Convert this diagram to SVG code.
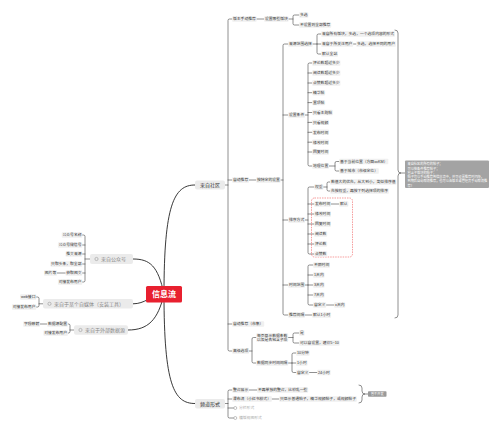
<svg xmlns="http://www.w3.org/2000/svg" width="500" height="433" viewBox="0 0 500 433">
<defs>
<style>
.bg{fill:#f0f0f0}
.t{font-family:"Liberation Sans","Noto Sans CJK SC",sans-serif;font-size:3.8px;fill:#333}
.tg{fill:#aaa}
.big{font-family:"Liberation Sans","Noto Sans CJK SC",sans-serif;font-size:5px;fill:#333}
.lb{font-family:"Liberation Sans","Noto Sans CJK SC",sans-serif;font-size:5px;fill:#8a8a8a}
.nb{fill:#ebebeb}
.ic{fill:none;stroke:#999;stroke-width:0.6}
.c{fill:none;stroke:#333;stroke-width:0.55;stroke-linecap:round}
.m{fill:none;stroke:#222;stroke-width:0.9}
.w{font-family:"Liberation Sans","Noto Sans CJK SC",sans-serif;font-size:3.2px;fill:#fff}
</style>
</defs>
<rect width="500" height="433" fill="#fff"/>

<g id="connectors">
<path class="m" d="M164,294 C164,205 174,185 195,185"/>
<path class="m" d="M164,294 C164,385 174,403.5 195,403.5"/>
<path class="m" d="M164,294 C158,266 150,259 133,259"/>
<path class="m" d="M164,294 C150,296 145,303.8 133,303.8"/>
<path class="m" d="M164,294 C158,320 148,330 128,330"/>
<!-- trunk A -->
<path class="c" d="M225,185 H228"/>
<path class="c" d="M232.2,19 H229.5 Q228,19 228,20.5 V349.5 Q228,351 229.5,351 H232.2 M228,180 H232.2 M228,324 H232.2"/>
<path class="c" d="M256.6,19 H264.2 M288.6,19 H293 M299.2,15 H294.5 Q293,15 293,16.5 V23.5 Q293,25 294.5,25 H299.2"/>
<path class="c" d="M249,180 H256.2 M280.6,180 H283"/>
<!-- trunk B -->
<path class="c" d="M288.2,44 H284.5 Q283,44 283,45.5 V313.5 Q283,315 284.5,315 H288.2 M283,115 H288.2 M283,220 H288.2 M283,285 H288.2"/>
<path class="c" d="M312.6,44 H317 M321.2,34 H318.5 Q317,34 317,35.5 V52.5 Q317,54 318.5,54 H321.2 M317,44 H321.2 M353.2,44 H356.2"/>
<path class="c" d="M305,115 H308 M312.2,63 H309.5 Q308,63 308,64.5 V164.5 Q308,166 309.5,166 H312.2 M308,73 H312.2 M308,83 H312.2 M308,92.7 H312.2 M308,102.6 H312.2 M308,112.5 H312.2 M308,122.4 H312.2 M308,132.3 H312.2 M308,142.2 H312.2 M308,152 H312.2"/>
<path class="c" d="M329,166 H335 M339.2,161.5 H336.5 Q335,161.5 335,163 V169.5 Q335,171 336.5,171 H339.2"/>
<path class="c" d="M305,220 H308 M314.2,187 H309.5 Q308,187 308,188.5 V252.5 Q308,254 309.5,254 H314.2 M308,204 H314.2 M308,214 H314.2 M308,224 H314.2 M308,234 H314.2 M308,244 H314.2"/>
<path class="c" d="M323.4,187 H327 M330.2,182 H328.5 Q327,182 327,183.5 V189.5 Q327,191 328.5,191 H330.2 M331,204 H339.2"/>
<path class="c" d="M305,285 H308 M313.2,265 H309.5 Q308,265 308,266.5 V303.5 Q308,305 309.5,305 H313.2 M308,275 H313.2 M308,285 H313.2 M308,295 H313.2 M326.2,305 H334.2"/>
<path class="c" d="M305,315 H312.2"/>
<path class="c" d="M249,351 H252 M256.2,337.5 H253.5 Q252,337.5 252,339 V361.5 Q252,363 253.5,363 H256.2"/>
<path class="c" d="M288.2,337.5 H293 M299.2,333 H294.5 Q293,333 293,334.5 V341.5 Q293,343 294.5,343 H299.2"/>
<path class="c" d="M288.2,363 H292 M296.2,353 H293.5 Q292,353 292,354.5 V371 Q292,372.5 293.5,372.5 H296.2 M292,363 H296.2 M309.2,372.5 H317.2"/>
<!-- big brace -->
<path class="c" d="M395,30 Q398,30 398,33 V170 Q398,173 401,173 Q398,173 398,176 V315 Q398,318 395,318 M401,173 H405"/>
<!-- 频道形式 -->
<path class="c" d="M225,403.5 H228 M232.2,390 H229.5 Q228,390 228,391.5 V416.5 Q228,418 229.5,418 H233.5 M228,399 H232.2 M228,408 H233.5"/>
<path class="c" d="M249,390 H257.2 M271.8,399 H279.2"/>
<path class="c" d="M359,385 Q362,385 362,388 V391 Q362,394 365,394 Q362,394 362,397 V400 Q362,403 359,403 M365,394 H368"/>
<!-- left -->
<path class="c" d="M90,259 H85 M82.3,235 H83.5 Q85,235 85,236.5 V280.5 Q85,282 83.5,282 H82.3 M85,245 H82.3 M85,254 H82.3 M85,264 H82.3 M85,273 H82.3 M65.5,273 H57"/>
<path class="c" d="M43,303.8 H39 M36.3,297 H37.5 Q39,297 39,298.5 V305.5 Q39,307 37.5,307 H36.3"/>
<path class="c" d="M74,330 H70 M67.8,324 H68.5 Q70,324 70,325.5 V331.5 Q70,333 68.5,333 H67.8 M47.2,324 H40"/>
</g>

<g id="center"><rect x="146" y="286" width="36" height="16.5" rx="1.5" fill="#e8202f"/><text x="164" y="297.2" text-anchor="middle" font-family="Liberation Sans,Noto Sans CJK SC,sans-serif" font-size="8" font-weight="bold" fill="#fff">信息流</text></g>

<g id="n-community"><rect class="nb" x="195" y="180.5" width="30" height="9" rx="2"/><text class="big" x="210" y="186.8" text-anchor="middle">来自社区</text></g>
<g id="n-channel"><rect class="nb" x="195" y="399" width="30" height="9.5" rx="2"/><text class="big" x="210" y="405.5" text-anchor="middle">频道形式</text></g>

<g id="n-gzh"><rect class="nb" x="90" y="254" width="43" height="10" rx="2"/><circle class="ic" cx="96.5" cy="259" r="1.6"/><text class="lb" x="101" y="260.8">来自公众号</text></g>
<g id="n-zmt"><rect class="nb" x="43" y="299" width="90" height="9.6" rx="2"/><circle class="ic" cx="49.5" cy="303.8" r="1.6"/><text class="lb" x="54" y="305.6">来自于某个自媒体（安装工具）</text></g>
<g id="n-ext"><rect class="nb" x="74" y="325.2" width="54" height="9.6" rx="2"/><circle class="ic" cx="80.5" cy="330" r="1.6"/><text class="lb" x="85" y="331.8">来自于外部数据源</text></g>

<!-- left children -->
<g id="l1"><rect class="bg" x="61.7" y="232.3" width="20.6" height="5.4" rx="0.8"/><text class="t" x="62.5" y="236.35">公众号名称</text></g>
<g id="l2"><rect class="bg" x="57.9" y="242.3" width="24.4" height="5.4" rx="0.8"/><text class="t" x="58.7" y="246.35">公众号微信号</text></g>
<g id="l3"><rect class="bg" x="65.5" y="251.3" width="16.8" height="5.4" rx="0.8"/><text class="t" x="66.3" y="255.35">推文来源</text></g>
<g id="l4"><rect class="bg" x="50.3" y="261.3" width="32" height="5.4" rx="0.8"/><text class="t" x="51.1" y="265.35">只取头条，取全部</text></g>
<g id="l5"><rect class="bg" x="65.5" y="270.3" width="16.8" height="5.4" rx="0.8"/><text class="t" x="66.3" y="274.35">获取图文</text></g>
<g id="l5a"><rect class="bg" x="44" y="270.3" width="13" height="5.4" rx="0.8"/><text class="t" x="44.8" y="274.35">图片等</text></g>
<g id="l6"><rect class="bg" x="57.9" y="279.3" width="24.4" height="5.4" rx="0.8"/><text class="t" x="58.7" y="283.35">对接发布用户</text></g>
<g id="l7"><rect class="bg" x="20.1" y="294.3" width="16.2" height="5.4" rx="0.8"/><text class="t" x="20.9" y="298.35">web接口</text></g>
<g id="l8"><rect class="bg" x="11.9" y="304.3" width="24.4" height="5.4" rx="0.8"/><text class="t" x="12.7" y="308.35">对接发布用户</text></g>
<g id="l9"><rect class="bg" x="47.2" y="321.3" width="20.6" height="5.4" rx="0.8"/><text class="t" x="48" y="325.35">数据源配置</text></g>
<g id="l9a"><rect class="bg" x="23.2" y="321.3" width="16.8" height="5.4" rx="0.8"/><text class="t" x="24" y="325.35">字段映射</text></g>
<g id="l10"><rect class="bg" x="43.4" y="330.3" width="24.4" height="5.4" rx="0.8"/><text class="t" x="44.2" y="334.35">对接发布用户</text></g>

<!-- community subtree -->
<g id="a1"><rect class="bg" x="232.2" y="16.3" width="24.4" height="5.4" rx="0.8"/><text class="t" x="233" y="20.35">版主手动推荐</text></g>
<g id="a1a"><rect class="bg" x="264.2" y="16.3" width="24.4" height="5.4" rx="0.8"/><text class="t" x="265" y="20.35">设置哪些版块</text></g>
<g id="a1a1"><rect class="bg" x="299.2" y="12.3" width="9.2" height="5.4" rx="0.8"/><text class="t" x="300" y="16.35">多选</text></g>
<g id="a1a2"><rect class="bg" x="299.2" y="22.3" width="32" height="5.4" rx="0.8"/><text class="t" x="300" y="26.35">不设置则全部推荐</text></g>
<g id="a2"><rect class="bg" x="232.2" y="177.3" width="16.8" height="5.4" rx="0.8"/><text class="t" x="233" y="181.35">自动推荐</text></g>
<g id="b"><rect class="bg" x="256.2" y="177.3" width="24.4" height="5.4" rx="0.8"/><text class="t" x="257" y="181.35">按特定的设置</text></g>

<g id="b1"><rect class="bg" x="288.2" y="41.3" width="24.4" height="5.4" rx="0.8"/><text class="t" x="289" y="45.35">来源范围选择</text></g>
<g id="b1a"><rect class="bg" x="321.2" y="31.3" width="73.8" height="5.4" rx="0.8"/><text class="t" x="322" y="35.35">来自所有版块，多选，一个选项内容的形式</text></g>
<g id="b1b"><rect class="bg" x="321.2" y="41.3" width="32" height="5.4" rx="0.8"/><text class="t" x="322" y="45.35">来自于所关注用户</text></g>
<g id="b1b1"><rect class="bg" x="356.2" y="41.3" width="39.6" height="5.4" rx="0.8"/><text class="t" x="357" y="45.35">多选，选择不同的用户</text></g>
<g id="b1c"><rect class="bg" x="321.2" y="51.3" width="16.8" height="5.4" rx="0.8"/><text class="t" x="322" y="55.35">默认全站</text></g>

<g id="b2"><rect class="bg" x="288.2" y="112.3" width="16.8" height="5.4" rx="0.8"/><text class="t" x="289" y="116.35">设置条件</text></g>
<g id="c1"><rect class="bg" x="312.2" y="60.3" width="28.2" height="5.4" rx="0.8"/><text class="t" x="313" y="64.35">评论数超过多少</text></g>
<g id="c2"><rect class="bg" x="312.2" y="70.3" width="28.2" height="5.4" rx="0.8"/><text class="t" x="313" y="74.35">阅读数超过多少</text></g>
<g id="c3"><rect class="bg" x="312.2" y="80.3" width="28.2" height="5.4" rx="0.8"/><text class="t" x="313" y="84.35">点赞数超过多少</text></g>
<g id="c4"><rect class="bg" x="312.2" y="90" width="13" height="5.4" rx="0.8"/><text class="t" x="313" y="94.05">精华帖</text></g>
<g id="c5"><rect class="bg" x="312.2" y="99.9" width="13" height="5.4" rx="0.8"/><text class="t" x="313" y="103.95">置顶帖</text></g>
<g id="c6"><rect class="bg" x="312.2" y="109.8" width="20.6" height="5.4" rx="0.8"/><text class="t" x="313" y="113.85">只看主题帖</text></g>
<g id="c7"><rect class="bg" x="312.2" y="119.7" width="16.8" height="5.4" rx="0.8"/><text class="t" x="313" y="123.75">只看视频</text></g>
<g id="c8"><rect class="bg" x="312.2" y="129.6" width="16.8" height="5.4" rx="0.8"/><text class="t" x="313" y="133.65">发布时间</text></g>
<g id="c9"><rect class="bg" x="312.2" y="139.5" width="16.8" height="5.4" rx="0.8"/><text class="t" x="313" y="143.55">修改时间</text></g>
<g id="c10"><rect class="bg" x="312.2" y="149.3" width="16.8" height="5.4" rx="0.8"/><text class="t" x="313" y="153.35">回复时间</text></g>
<g id="c11"><rect class="bg" x="312.2" y="163.3" width="16.8" height="5.4" rx="0.8"/><text class="t" x="313" y="167.35">地理位置</text></g>
<g id="c11a"><rect class="bg" x="339.2" y="158.8" width="49.1" height="5.4" rx="0.8"/><text class="t" x="340" y="162.85">基于当前位置（方圆xxKM）</text></g>
<g id="c11b"><rect class="bg" x="339.2" y="168.3" width="39.6" height="5.4" rx="0.8"/><text class="t" x="340" y="172.35">基于城市（市级定位）</text></g>

<g id="b3"><rect class="bg" x="288.2" y="217.3" width="16.8" height="5.4" rx="0.8"/><text class="t" x="289" y="221.35">排序方式</text></g>
<g id="s1"><rect class="bg" x="314.2" y="184.3" width="9.2" height="5.4" rx="0.8"/><text class="t" x="315" y="188.35">权重</text></g>
<g id="s1a"><rect class="bg" x="330.2" y="179.3" width="66.2" height="5.4" rx="0.8"/><text class="t" x="331" y="183.35">数值大的优先，从大到小，类似排序值</text></g>
<g id="s1b"><rect class="bg" x="330.2" y="188.3" width="58.6" height="5.4" rx="0.8"/><text class="t" x="331" y="192.35">先按权重，再按下列选择项的排序</text></g>
<rect x="311.5" y="198" width="41" height="59" rx="3" fill="none" stroke="#f05a5a" stroke-width="0.6" stroke-dasharray="1.5 1"/>
<g id="s2"><rect class="bg" x="314.2" y="201.3" width="16.8" height="5.4" rx="0.8"/><text class="t" x="315" y="205.35">发布时间</text></g>
<g id="s2a"><rect class="bg" x="339.2" y="201.3" width="9.2" height="5.4" rx="0.8"/><text class="t" x="340" y="205.35">默认</text></g>
<g id="s3"><rect class="bg" x="314.2" y="211.3" width="16.8" height="5.4" rx="0.8"/><text class="t" x="315" y="215.35">修改时间</text></g>
<g id="s4"><rect class="bg" x="314.2" y="221.3" width="16.8" height="5.4" rx="0.8"/><text class="t" x="315" y="225.35">回复时间</text></g>
<g id="s5"><rect class="bg" x="314.2" y="231.3" width="13" height="5.4" rx="0.8"/><text class="t" x="315" y="235.35">阅读数</text></g>
<g id="s6"><rect class="bg" x="314.2" y="241.3" width="13" height="5.4" rx="0.8"/><text class="t" x="315" y="245.35">评论数</text></g>
<g id="s7"><rect class="bg" x="314.2" y="251.3" width="13" height="5.4" rx="0.8"/><text class="t" x="315" y="255.35">点赞数</text></g>

<g id="b4"><rect class="bg" x="288.2" y="282.3" width="16.8" height="5.4" rx="0.8"/><text class="t" x="289" y="286.35">时间范围</text></g>
<g id="r1"><rect class="bg" x="313.2" y="262.3" width="16.8" height="5.4" rx="0.8"/><text class="t" x="314" y="266.35">不限时间</text></g>
<g id="r2"><rect class="bg" x="313.2" y="272.3" width="11.3" height="5.4" rx="0.8"/><text class="t" x="314" y="276.35">1天内</text></g>
<g id="r3"><rect class="bg" x="313.2" y="282.3" width="11.3" height="5.4" rx="0.8"/><text class="t" x="314" y="286.35">3天内</text></g>
<g id="r4"><rect class="bg" x="313.2" y="292.3" width="11.3" height="5.4" rx="0.8"/><text class="t" x="314" y="296.35">7天内</text></g>
<g id="r5"><rect class="bg" x="313.2" y="302.3" width="13" height="5.4" rx="0.8"/><text class="t" x="314" y="306.35">自定义</text></g>
<g id="r5a"><rect class="bg" x="334.2" y="302.3" width="11.1" height="5.4" rx="0.8"/><text class="t" x="335" y="306.35">x天内</text></g>
<g id="b5"><rect class="bg" x="288.2" y="312.3" width="16.8" height="5.4" rx="0.8"/><text class="t" x="289" y="316.35">推荐间隔</text></g>
<g id="b5a"><rect class="bg" x="312.2" y="312.3" width="18.9" height="5.4" rx="0.8"/><text class="t" x="313" y="316.35">默认1小时</text></g>

<g id="a3"><rect class="bg" x="232.2" y="321.3" width="32" height="5.4" rx="0.8"/><text class="t" x="233" y="325.35">自动推荐（市集）</text></g>
<g id="a4"><rect class="bg" x="232.2" y="348.3" width="16.8" height="5.4" rx="0.8"/><text class="t" x="233" y="352.35">高级选项</text></g>
<g id="a4a"><rect class="bg" x="256.2" y="333.2" width="32" height="8.6" rx="0.8"/><text class="t" x="257" y="336.7">每页显示数据条数</text><text class="t" x="257" y="340.9">以及是否包含子项</text></g>
<g id="a4a1"><rect class="bg" x="299.2" y="330.3" width="5.4" height="5.4" rx="0.8"/><text class="t" x="300" y="334.35">是</text></g>
<g id="a4a2"><rect class="bg" x="299.2" y="340.3" width="40.5" height="5.4" rx="0.8"/><text class="t" x="300" y="344.35">可以自设置，建议5~10</text></g>
<g id="a4b"><rect class="bg" x="256.2" y="360.3" width="32" height="5.4" rx="0.8"/><text class="t" x="257" y="364.35">数据同步时间间隔</text></g>
<g id="a4b1"><rect class="bg" x="296.2" y="350.3" width="13.4" height="5.4" rx="0.8"/><text class="t" x="297" y="354.35">10分钟</text></g>
<g id="a4b2"><rect class="bg" x="296.2" y="360.3" width="11.3" height="5.4" rx="0.8"/><text class="t" x="297" y="364.35">1小时</text></g>
<g id="a4b3"><rect class="bg" x="296.2" y="369.8" width="13" height="5.4" rx="0.8"/><text class="t" x="297" y="373.85">自定义</text></g>
<g id="a4b3a"><rect class="bg" x="317.2" y="369.8" width="13.4" height="5.4" rx="0.8"/><text class="t" x="318" y="373.85">24小时</text></g>

<g id="note"><rect x="405" y="160.5" width="84" height="27.5" rx="1" fill="#a3a3a3"/>
<text class="w" x="407.5" y="165.2">来自社区的所有的帖子；</text>
<text class="w" x="407.5" y="169.5">可以按条件推荐帖子；</text>
<text class="w" x="407.5" y="173.8">包含子版块的帖子；</text>
<text class="w" x="407.5" y="178.1">帖子可以手动推荐到信息流中，并可设置推荐时间段，</text>
<text class="w" x="407.5" y="182.4">到期后自动取消推荐，也可以由版主或管理员手动取消推</text>
<text class="w" x="407.5" y="186.7">荐！</text></g>

<!-- channel subtree -->
<g id="f1"><rect class="bg" x="232.2" y="387.3" width="16.8" height="5.4" rx="0.8"/><text class="t" x="233" y="391.35">整合展示</text></g>
<g id="f1a"><rect class="bg" x="257.2" y="387.3" width="51" height="5.4" rx="0.8"/><text class="t" x="258" y="391.35">不再单独的整合，比较乱一些</text></g>
<g id="f2"><rect class="bg" x="232.2" y="396.3" width="39.6" height="5.4" rx="0.8"/><text class="t" x="233" y="400.35">瀑布流（小红书模式）</text></g>
<g id="f2a"><rect class="bg" x="279.2" y="396.3" width="77.6" height="5.4" rx="0.8"/><text class="t" x="280" y="400.35">只显示普通帖子，精华视频帖子，或视频帖子</text></g>
<g id="f3"><circle class="ic" cx="235.3" cy="408" r="1.5"/><text class="t tg" x="239" y="409.35">分栏形式</text></g>
<g id="f4"><circle class="ic" cx="235.3" cy="418" r="1.5"/><text class="t tg" x="239" y="419.35">横版视图形式</text></g>
<g id="tag"><rect x="368" y="391.2" width="18.5" height="5.6" rx="0.8" fill="#9a9a9a"/><text class="w" x="377.25" y="395.1" text-anchor="middle">暂不开发</text></g>
</svg>
